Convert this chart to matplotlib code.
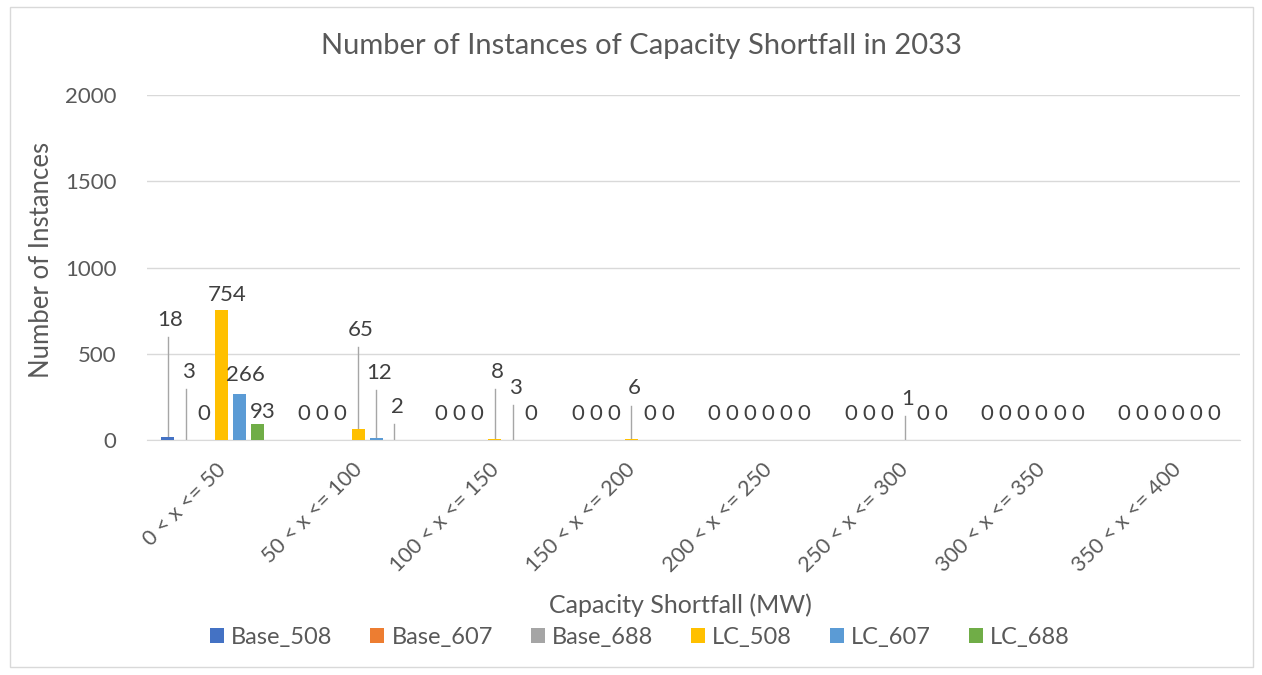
import matplotlib
matplotlib.use("Agg")
import matplotlib.pyplot as plt
from matplotlib.patches import Rectangle
import numpy as np

plt.rcParams['font.family'] = ['Lato', 'DejaVu Sans']

categories = ["0 < x <= 50", "50 < x <= 100", "100 < x <= 150", "150 < x <= 200",
              "200 < x <= 250", "250 < x <= 300", "300 < x <= 350", "350 < x <= 400"]
series_names = ["Base_508", "Base_607", "Base_688", "LC_508", "LC_607", "LC_688"]
base_508 = [18, 0, 0, 0, 0, 0, 0, 0]
base_607 = [3, 0, 0, 0, 0, 0, 0, 0]
base_688 = [0, 0, 0, 0, 0, 0, 0, 0]
lc_508 = [754, 65, 8, 6, 0, 1, 0, 0]
lc_607 = [266, 12, 3, 0, 0, 0, 0, 0]
lc_688 = [93, 2, 0, 0, 0, 0, 0, 0]
series_values = [base_508, base_607, base_688, lc_508, lc_607, lc_688]
colors = ["#4472C4", "#ED7D31", "#A5A5A5", "#FFC000", "#5B9BD5", "#70AD47"]

# layout: moved data-label heights (data units) for labels with leader lines
label_moved = {(0, 0): 696, (1, 0): 394, (3, 1): 638, (4, 1): 388, (5, 1): 191,
               (3, 2): 394, (4, 2): 301, (3, 3): 300, (3, 5): 240}
label_fixed = {(3, 0): 841, (4, 0): 377, (5, 0): 162}
zero_label_y = 150

fig = plt.figure(figsize=(12.62, 6.75), dpi=100)
fig.patches.append(Rectangle((0.008, 0.012), 0.985, 0.978, transform=fig.transFigure,
                             fill=False, edgecolor="#D9D9D9", linewidth=1.0))
ax = fig.add_axes([0.1165, 0.348, 0.866, 0.511])

n = len(series_names)
x = np.arange(len(categories))
step = 0.132
width = 0.095
txt = "#404040"
lab_fs = 16
for i, (name, vals, c) in enumerate(zip(series_names, series_values, colors)):
    xs = x - 0.02 + (i - (n - 1) / 2) * step
    ax.bar(xs, vals, width=width, color=c, label=name, zorder=3)
    for j, v in enumerate(vals):
        if (i, j) in label_moved:
            ly = label_moved[(i, j)]
            ax.plot([xs[j], xs[j]], [v, ly - 100], color="#A6A6A6", lw=1.0, zorder=2)
            ax.text(xs[j] + 0.02, ly, str(v), ha="center", va="center", fontsize=lab_fs, color=txt)
        elif (i, j) in label_fixed:
            ax.text(xs[j] + 0.04, label_fixed[(i, j)], str(v), ha="center", va="center",
                    fontsize=lab_fs, color=txt)
        elif v == 0:
            ax.text(xs[j], zero_label_y, "0", ha="center", va="center", fontsize=lab_fs, color=txt)

ax.set_xlim(-0.5, len(categories) - 0.5)
ax.set_ylim(0, 2000)
ax.set_yticks([0, 500, 1000, 1500, 2000])
ax.yaxis.grid(True, color="#D9D9D9", lw=1.0, zorder=0)
for s in ["top", "right", "left"]:
    ax.spines[s].set_visible(False)
ax.spines["bottom"].set_color("#D9D9D9")
ax.tick_params(axis="y", length=0, labelsize=16, colors="#595959", pad=22)
ax.set_xticks(x)
ax.set_xticklabels(categories, rotation=45, ha="right", rotation_mode="anchor")
ax.tick_params(axis="x", length=0, labelsize=15.5, colors="#595959", pad=14)

fig.text(0.508, 0.932, "Number of Instances of Capacity Shortfall in 2033", ha="center",
         va="center", fontsize=21, color="#595959")
fig.text(0.033, 0.615, "Number of Instances", ha="center", va="center", rotation=90,
         fontsize=18.5, color="#595959")
fig.text(0.539, 0.104, "Capacity Shortfall (MW)", ha="center", va="center",
         fontsize=18, color="#595959")
fig.legend(loc="center", bbox_to_anchor=(0.507, 0.056), ncol=6, frameon=False,
           fontsize=17, handlelength=0.6, handleheight=0.6, handletextpad=0.3,
           columnspacing=1.6, labelcolor="#595959")

fig.savefig("out.png", dpi=100)
